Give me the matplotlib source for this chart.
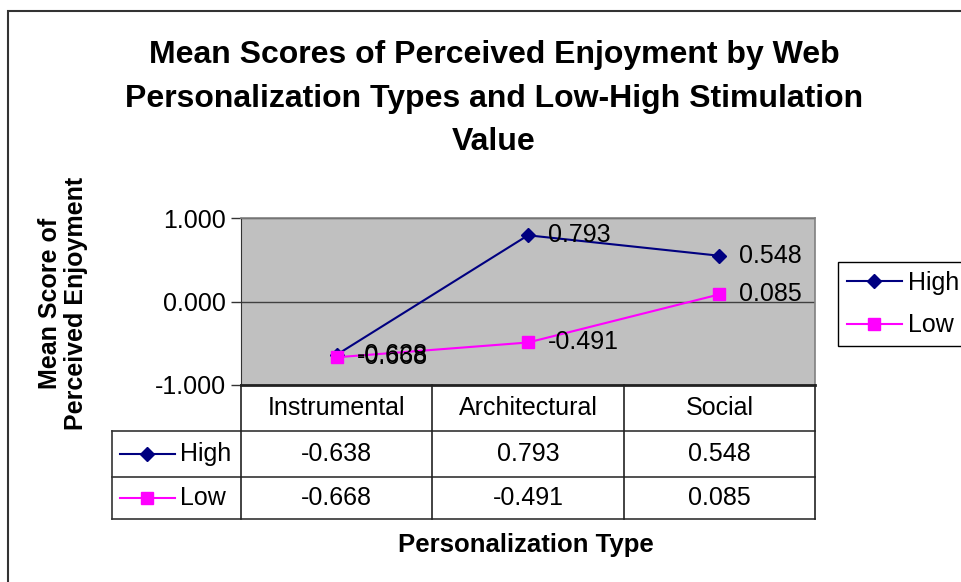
import numpy as np
import matplotlib
matplotlib.use("Agg")
import matplotlib.pyplot as plt
from matplotlib.patches import Rectangle

plt.rcParams['font.family'] = ['Liberation Sans', 'DejaVu Sans']

# data
categories = ['Instrumental', 'Architectural', 'Social']
series_names = ['High', 'Low']
high = [-0.638, 0.793, 0.548]
low = [-0.668, -0.491, 0.085]
yticks = [-1.0, 0.0, 1.0]

title_lines = ['Mean Scores of Perceived Enjoyment by Web',
               'Personalization Types and Low-High Stimulation',
               'Value']
ylabel_lines = ['Mean Score of', 'Perceived Enjoyment']
xlabel = 'Personalization Type'

colors = ['#000080', '#FF00FF']
markers = ['D', 's']
msizes = [7, 9]

W, H = 961, 582
fig = plt.figure(figsize=(W / 100, H / 100), dpi=100)

def fx(px):
    return px / W

def fy(py):
    return 1 - py / H

# outer chart border (runs off right/bottom)
fig.patches.append(Rectangle((fx(8), fy(600)), fx(1000), fy(11) - fy(600),
                             transform=fig.transFigure, fill=False,
                             edgecolor='#333333', lw=1.5))

# plot area
L, R, T, B = 241, 815, 218, 385
ax = fig.add_axes([fx(L), fy(B), fx(R - L), fy(T) - fy(B)])
ax.set_facecolor('#C0C0C0')
x = np.arange(len(categories))
ax.set_xlim(-0.5, len(categories) - 0.5)
ax.set_ylim(-1, 1)
ax.set_yticks(yticks)
ax.set_yticklabels(['%.3f' % v for v in yticks], fontsize=18)
ax.tick_params(axis='y', direction='out', length=7, width=1, color='#333333', pad=4)
ax.set_xticks([])
ax.yaxis.grid(True, color='#404040', lw=1)
ax.set_axisbelow(True)
for s in ['top', 'right']:
    ax.spines[s].set_color('#808080')
    ax.spines[s].set_linewidth(1.2)
ax.spines['left'].set_color('#333333')
ax.spines['bottom'].set_color('#222222')
ax.spines['bottom'].set_linewidth(2)

handles = []
for vals, name, c, m, ms in zip([high, low], series_names, colors, markers, msizes):
    h, = ax.plot(x, vals, color=c, lw=1.5, marker=m, markersize=ms,
                 markerfacecolor=c, markeredgecolor=c, label=name, clip_on=False)
    handles.append(h)
    for xi, v in zip(x, vals):
        ax.annotate('%.3f' % v, (xi, v), xytext=(20, 0), textcoords='offset pixels',
                    ha='left', va='center', fontsize=18, color='black')

# legend
fig.legend(handles=handles, loc='upper left', bbox_to_anchor=(fx(838), fy(262)),
           bbox_transform=fig.transFigure, fontsize=18, frameon=True,
           fancybox=False, edgecolor='black', framealpha=1, borderaxespad=0,
           handlelength=2.2, handletextpad=0.25, labelspacing=0.75, borderpad=0.35)

# data table below plot
TL, TB = 112, 519
unit = (R - L) / len(categories)
tab = fig.add_axes([fx(TL), fy(TB), fx(R - TL), fy(B) - fy(TB)])
tab.set_xlim(-0.5 - (L - TL) / unit, len(categories) - 0.5)
tab.set_ylim(TB, B)
tab.axis('off')
row_lines = [431, 477, 519]
row_mid = [408, 454, 498]
xl = tab.get_xlim()[0]
for yy in row_lines:
    tab.plot([xl, len(categories) - 0.5], [yy, yy], color='#333333', lw=1.2, clip_on=False)
for i in range(len(categories) + 1):
    tab.plot([i - 0.5, i - 0.5], [B, TB], color='#222222', lw=1.2, clip_on=False)
tab.plot([xl, xl], [row_lines[0], TB], color='#333333', lw=1.2, clip_on=False)
for i, cat in enumerate(categories):
    tab.text(i, row_mid[0], cat, ha='center', va='center', fontsize=18)
for r, (vals, name, c, m, ms) in enumerate(zip([high, low], series_names, colors, markers, msizes)):
    ym = row_mid[r + 1]
    xs = xl + np.array([8, 63]) / unit
    tab.plot(xs, [ym, ym], color=c, lw=1.5, clip_on=False)
    tab.plot([xs.mean()], [ym], marker=m, color=c, markersize=ms, clip_on=False)
    tab.text(xl + 68 / unit, ym, name, ha='left', va='center', fontsize=18)
    for i, v in enumerate(vals):
        tab.text(i, ym, '%.3f' % v, ha='center', va='center', fontsize=18)

# titles
for line, base in zip(title_lines, [63, 106.5, 150]):
    fig.text(fx(494), fy(base), line, ha='center', va='baseline',
             fontsize=23, fontweight='bold')
for line, bx in zip(ylabel_lines, [57, 83]):
    fig.text(fx(bx), fy(303), line, rotation=90, rotation_mode='anchor',
             ha='center', va='baseline', fontsize=18, fontweight='bold')
fig.text(fx(526), fy(552), xlabel, ha='center', va='baseline',
         fontsize=18.5, fontweight='bold')

fig.savefig('out.png', dpi=100)
